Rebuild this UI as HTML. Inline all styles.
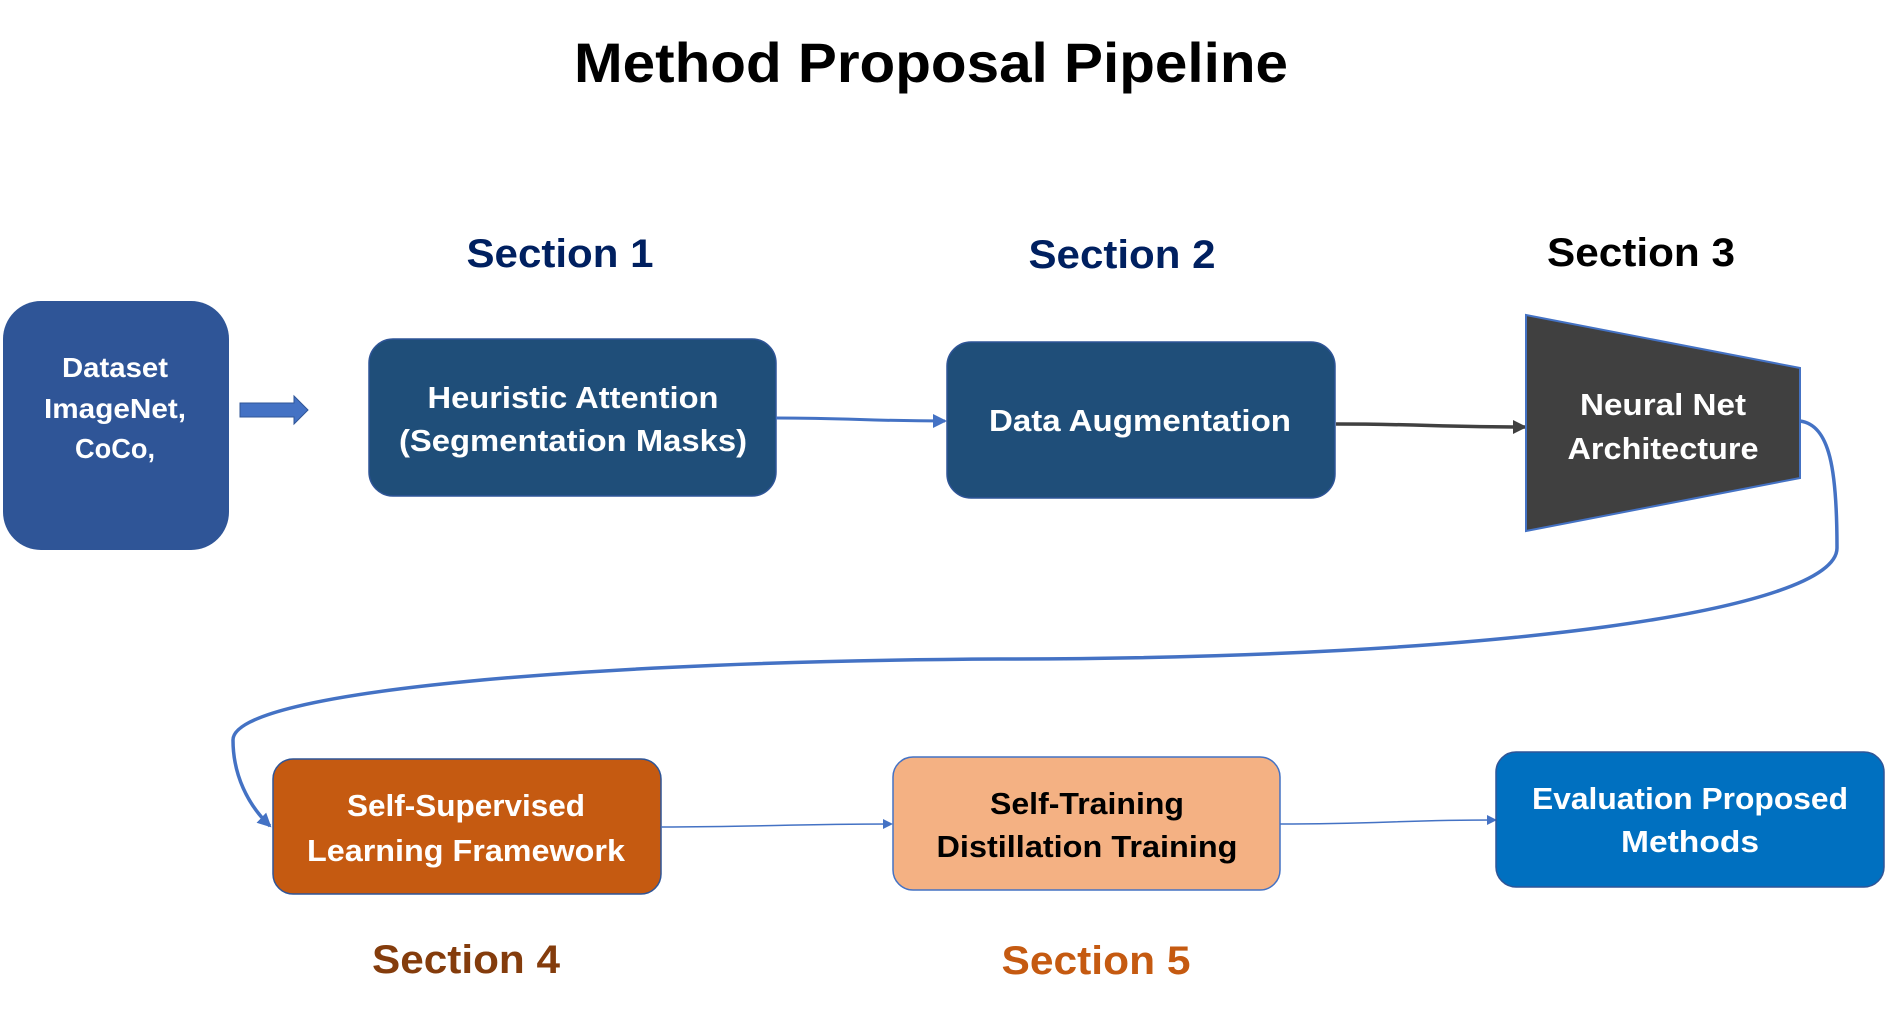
<!DOCTYPE html>
<html><head><meta charset="utf-8"><style>
html,body{margin:0;padding:0;background:#fff;}
svg{display:block;}
text{font-family:"Liberation Sans",sans-serif;font-weight:bold;text-anchor:middle;}
</style></head><body>
<svg width="1887" height="1020" viewBox="0 0 1887 1020" xmlns="http://www.w3.org/2000/svg">
<defs>
<marker id="ab" markerWidth="10" markerHeight="10" refX="8" refY="5" orient="auto" markerUnits="userSpaceOnUse"><path d="M0,0 L10,5 L0,10 z" fill="#4472C4"/></marker>
<marker id="ab2" markerWidth="14" markerHeight="14" refX="12" refY="7" orient="auto" markerUnits="userSpaceOnUse"><path d="M0,0 L14,7 L0,14 z" fill="#4472C4"/></marker>
<marker id="ad" markerWidth="14" markerHeight="14" refX="12" refY="7" orient="auto" markerUnits="userSpaceOnUse"><path d="M0,0 L14,7 L0,14 z" fill="#404040"/></marker>
</defs>
<text x="931" y="82" font-size="56" fill="#000" textLength="714" lengthAdjust="spacingAndGlyphs">Method Proposal Pipeline</text>

<text x="560" y="267" font-size="40" fill="#002060" textLength="187" lengthAdjust="spacingAndGlyphs">Section 1</text>
<text x="1122" y="268" font-size="40" fill="#002060" textLength="187" lengthAdjust="spacingAndGlyphs">Section 2</text>
<text x="1641" y="266" font-size="40" fill="#000" textLength="188" lengthAdjust="spacingAndGlyphs">Section 3</text>
<text x="466" y="973" font-size="40" fill="#843C0C" textLength="188" lengthAdjust="spacingAndGlyphs">Section 4</text>
<text x="1096" y="974" font-size="40" fill="#C55A11" textLength="189" lengthAdjust="spacingAndGlyphs">Section 5</text>

<rect x="3" y="301" width="226" height="249" rx="38" fill="#2F5597"/>
<text x="115" y="377" font-size="28" fill="#fff" textLength="106" lengthAdjust="spacingAndGlyphs">Dataset</text>
<text x="115" y="418" font-size="28" fill="#fff" textLength="142" lengthAdjust="spacingAndGlyphs">ImageNet,</text>
<text x="115" y="458" font-size="28" fill="#fff" textLength="80" lengthAdjust="spacingAndGlyphs">CoCo,</text>

<path d="M240,403 L294,403 L294,396 L308,410 L294,424 L294,417 L240,417 z" fill="#4472C4" stroke="#2F5597" stroke-width="1"/>

<rect x="369" y="339" width="407" height="157" rx="24" fill="#1F4E79" stroke="#2F5597" stroke-width="1.5"/>
<text x="573" y="408" font-size="31" fill="#fff" textLength="291" lengthAdjust="spacingAndGlyphs">Heuristic Attention</text>
<text x="573" y="451" font-size="31" fill="#fff" textLength="348" lengthAdjust="spacingAndGlyphs">(Segmentation Masks)</text>

<path d="M776,418 C850,418 870,421 945,421" fill="none" stroke="#4472C4" stroke-width="3" marker-end="url(#ab2)"/>

<rect x="947" y="342" width="388" height="156" rx="24" fill="#1F4E79" stroke="#2F5597" stroke-width="1.5"/>
<text x="1140" y="431" font-size="31" fill="#fff" textLength="302" lengthAdjust="spacingAndGlyphs">Data Augmentation</text>

<path d="M1336,424 C1420,424 1440,427 1525,427" fill="none" stroke="#404040" stroke-width="3.5" marker-end="url(#ad)"/>

<polygon points="1526,315 1800,368 1800,478 1526,531" fill="#404040" stroke="#4472C4" stroke-width="2"/>
<text x="1663" y="415" font-size="31" fill="#fff" textLength="166" lengthAdjust="spacingAndGlyphs">Neural Net</text>
<text x="1663" y="459" font-size="31" fill="#fff" textLength="191" lengthAdjust="spacingAndGlyphs">Architecture</text>

<path d="M1800,421 C1830,425 1837,470 1837,548 C1837,610 1500,659 1000,659 C600,661 233,690 233,740 C233,775 248,805 270,826" fill="none" stroke="#4472C4" stroke-width="3.5" marker-end="url(#ab2)"/>

<rect x="273" y="759" width="388" height="135" rx="20" fill="#C55A11" stroke="#2F5597" stroke-width="1.5"/>
<text x="466" y="816" font-size="31" fill="#fff" textLength="238" lengthAdjust="spacingAndGlyphs">Self-Supervised</text>
<text x="466" y="861" font-size="31" fill="#fff" textLength="318" lengthAdjust="spacingAndGlyphs">Learning Framework</text>

<path d="M661,827 C760,827 790,824 891,824" fill="none" stroke="#4472C4" stroke-width="1.5" marker-end="url(#ab)"/>

<rect x="893" y="757" width="387" height="133" rx="20" fill="#F4B183" stroke="#4472C4" stroke-width="1.5"/>
<text x="1087" y="814" font-size="31" fill="#000" textLength="194" lengthAdjust="spacingAndGlyphs">Self-Training</text>
<text x="1087" y="857" font-size="31" fill="#000" textLength="301" lengthAdjust="spacingAndGlyphs">Distillation Training</text>

<path d="M1280,824 C1380,824 1400,820 1495,820" fill="none" stroke="#4472C4" stroke-width="1.5" marker-end="url(#ab)"/>

<rect x="1496" y="752" width="388" height="135" rx="20" fill="#0070C0" stroke="#2F5597" stroke-width="1.5"/>
<text x="1690" y="809" font-size="31" fill="#fff" textLength="316" lengthAdjust="spacingAndGlyphs">Evaluation Proposed</text>
<text x="1690" y="852" font-size="31" fill="#fff" textLength="138" lengthAdjust="spacingAndGlyphs">Methods</text>
</svg>
</body></html>
